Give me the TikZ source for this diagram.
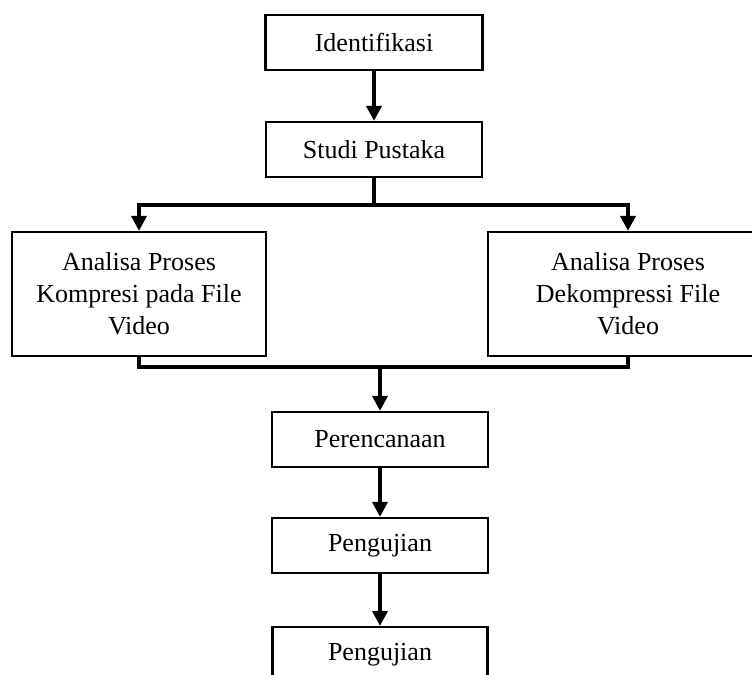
\documentclass[tikz,border=0pt]{standalone}
\usepackage{fontspec}
\setmainfont{Liberation Serif}
\usetikzlibrary{arrows.meta}
\begin{document}
\begin{tikzpicture}[x=1bp,y=-1bp,
  box/.style={draw,line width=2.2bp,rectangle,inner sep=0pt,align=center,
    font=\fontsize{26bp}{32bp}\selectfont},
  conn/.style={line width=3.6bp},
  arr/.style={conn,-{Triangle[width=15bp,length=15bp]}}]
\useasboundingbox (0,0) rectangle (752,675);
\clip (0,0) rectangle (752,675);
\node[box,minimum width=217bp,minimum height=55bp] (ident) at (374,42.5) {Identifikasi};
\node[box,minimum width=216bp,minimum height=55bp] (studi) at (374,149.5) {Studi Pustaka};
\node[box,minimum width=254bp,minimum height=124bp] (left) at (139,294) {Analisa Proses\\Kompresi pada File\\Video};
\node[box,minimum width=280bp,minimum height=124bp] (right) at (628,294) {Analisa Proses\\Dekompressi File\\Video};
\node[box,minimum width=216bp,minimum height=55bp] (renc) at (380,439.5) {Perencanaan};
\node[box,minimum width=216bp,minimum height=55bp] (uji) at (380,545.5) {Pengujian};
\node[box,minimum width=215bp,minimum height=55bp] (uji2) at (380,654.5) {Pengujian};
\coordinate (split) at (374,205);
\coordinate (merge) at (380,367);
\draw[arr] (ident.south) -- (studi.north);
\draw[conn] (studi.south) -- (split);
\draw[arr] (split) -| (left.north);
\draw[arr] (split) -| (right.north);
\draw[conn] (left.south) |- (merge);
\draw[conn] (right.south) |- (merge);
\draw[arr] (merge) -- (renc.north);
\draw[arr] (renc.south) -- (uji.north);
\draw[arr] (uji.south) -- (uji2.north);
\end{tikzpicture}
\end{document}
